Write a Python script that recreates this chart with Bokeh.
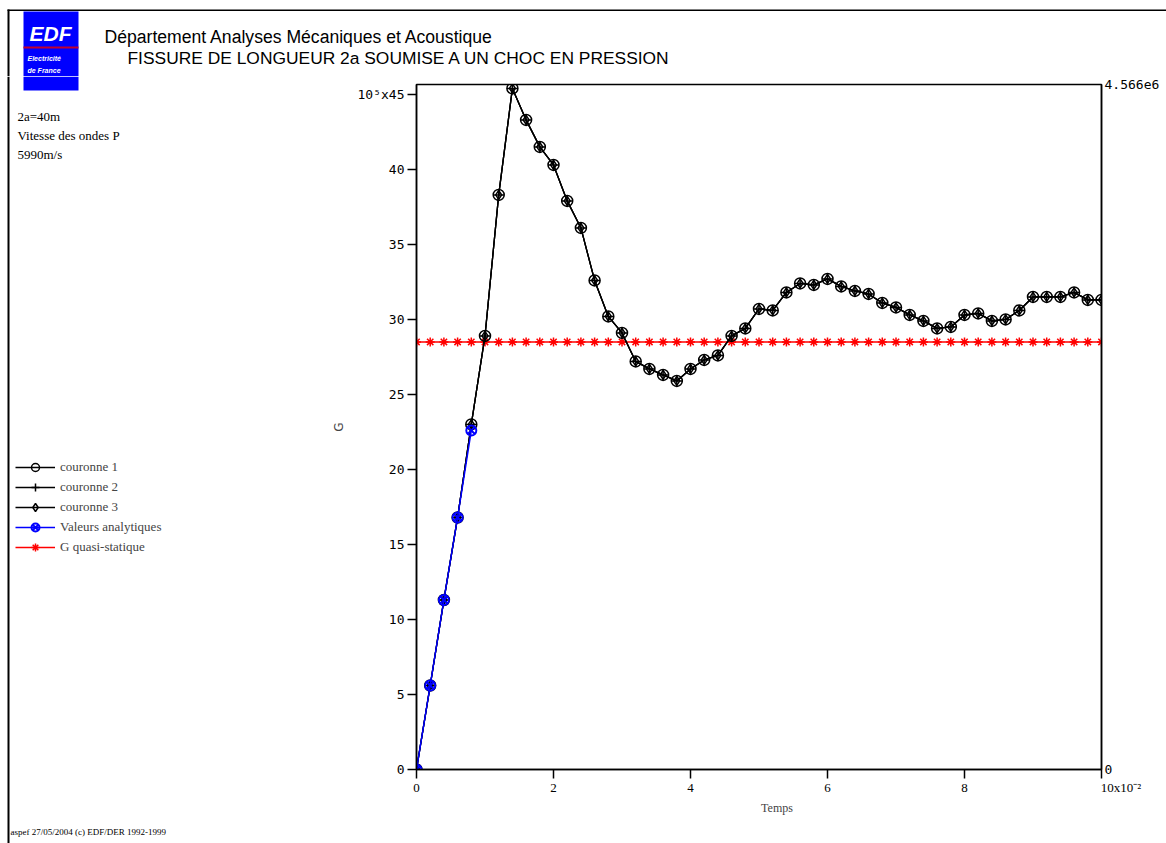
import math
from bokeh.plotting import figure
from bokeh.layouts import column, row
from bokeh.models import (Range1d, LinearAxis, FixedTicker, Label, BoxAnnotation,
                          Legend, LegendItem)
from bokeh.embed import file_html
from bokeh.resources import INLINE

# ---------------- data ----------------
TIME = [0.0, 0.2, 0.4, 0.6, 0.8, 1.0, 1.2, 1.4, 1.6, 1.8,
        2.0, 2.2, 2.4, 2.6, 2.8, 3.0, 3.2, 3.4, 3.6, 3.8,
        4.0, 4.2, 4.4, 4.6, 4.8, 5.0, 5.2, 5.4, 5.6, 5.8,
        6.0, 6.2, 6.4, 6.6, 6.8, 7.0, 7.2, 7.4, 7.6, 7.8,
        8.0, 8.2, 8.4, 8.6, 8.8, 9.0, 9.2, 9.4, 9.6, 9.8, 10.0]

COURONNE_1 = [0.0, 5.6, 11.3, 16.8, 23.0, 28.9, 38.3, 45.4, 43.3, 41.5,
              40.3, 37.9, 36.1, 32.6, 30.2, 29.1, 27.2, 26.7, 26.3, 25.9,
              26.7, 27.3, 27.6, 28.9, 29.4, 30.7, 30.6, 31.8, 32.4, 32.3,
              32.7, 32.2, 31.9, 31.7, 31.1, 30.8, 30.3, 29.9, 29.4, 29.5,
              30.3, 30.4, 29.9, 30.0, 30.6, 31.5, 31.5, 31.5, 31.8, 31.3, 31.3]
COURONNE_2 = [0.0, 5.6, 11.3, 16.8, 23.0, 28.9, 38.3, 45.4, 43.3, 41.5,
              40.3, 37.9, 36.1, 32.6, 30.2, 29.1, 27.2, 26.7, 26.3, 25.9,
              26.7, 27.3, 27.6, 28.9, 29.4, 30.7, 30.6, 31.8, 32.4, 32.3,
              32.7, 32.2, 31.9, 31.7, 31.1, 30.8, 30.3, 29.9, 29.4, 29.5,
              30.3, 30.4, 29.9, 30.0, 30.6, 31.5, 31.5, 31.5, 31.8, 31.3, 31.3]
COURONNE_3 = [0.0, 5.6, 11.3, 16.8, 23.0, 28.9, 38.3, 45.4, 43.3, 41.5,
              40.3, 37.9, 36.1, 32.6, 30.2, 29.1, 27.2, 26.7, 26.3, 25.9,
              26.7, 27.3, 27.6, 28.9, 29.4, 30.7, 30.6, 31.8, 32.4, 32.3,
              32.7, 32.2, 31.9, 31.7, 31.1, 30.8, 30.3, 29.9, 29.4, 29.5,
              30.3, 30.4, 29.9, 30.0, 30.6, 31.5, 31.5, 31.5, 31.8, 31.3, 31.3]

ANALYTIC_T = [0.0, 0.2, 0.4, 0.6, 0.8]
ANALYTIC_G = [0.0, 5.6, 11.3, 16.8, 22.6]

G_QUASI_STATIQUE = [28.5] * len(TIME)

Y_TICKS = [0, 5, 10, 15, 20, 25, 30, 35, 40, 45]
X_TICKS = [0, 2, 4, 6, 8, 10]
Y_MAX = 45.66
NB = "\u00a0"
Y_LABELS = {45: "10\u2075x45"}
X_LABELS = {10: NB * 12 + "10x10\u207b\u00b2"}
RIGHT_LABELS = {0: "0", Y_MAX: "4.566e6"}
LEGEND_LABELS = ["couronne 1", "couronne 2", "couronne 3",
                 "Valeurs analytiques", "G quasi-statique"]

TOP_H = 76       # header band height
LEFT_W = 325     # left band width
FRAME_LEFT = 416 # page x of the plot frame's left edge
W, H = 1166, 843

BLUE = "#0000ff"
RED = "#ff0000"


def draw_series(f):
    """Draw all series on figure f; return (line, marker) renderer pairs in legend order."""
    red_l = f.line(TIME, G_QUASI_STATIQUE, line_color=RED, line_width=1.5)
    red_m = f.scatter(TIME, G_QUASI_STATIQUE, marker="asterisk", size=9,
                      line_color=RED, line_width=1.5)
    pairs = []
    for vals, mk, sz in zip([COURONNE_1, COURONNE_2, COURONNE_3],
                            ["circle", "cross", "diamond"], [11, 11, 9]):
        rl = f.line(TIME, vals, line_color="black", line_width=1.3)
        rm = f.scatter(TIME, vals, marker=mk, size=sz, line_color="black",
                       fill_color=None, line_width=1.5)
        pairs.append([rl, rm])
    bl = f.line(ANALYTIC_T, ANALYTIC_G, line_color=BLUE, line_width=1.5)
    bm = f.scatter(ANALYTIC_T, ANALYTIC_G, marker="circle_x", size=10, line_color=BLUE,
                   fill_color=None, line_width=2)
    pairs.append([bl, bm])
    pairs.append([red_l, red_m])
    return pairs


def deco_fig(width, height, x0, y0):
    """A figure whose frame is its whole canvas, with data units = page pixels."""
    f = figure(width=width, height=height,
               x_range=Range1d(x0, x0 + width), y_range=Range1d(y0 + height, y0),
               output_backend="svg", toolbar_location=None,
               x_axis_location=None, y_axis_location=None, min_border=0,
               frame_align=False)
    f.grid.visible = False
    f.outline_line_color = None
    f.background_fill_color = "white"
    f.border_fill_color = "white"
    return f


def box(f, l, r, t, b, color):
    f.add_layout(BoxAnnotation(left=l, right=r, top=t, bottom=b,
                               fill_color=color, fill_alpha=1, line_color=None))


def label(f, x, y, text, font="Liberation Serif", size="13px", color="black",
          align="left", style="normal", angle=0):
    f.add_layout(Label(x=x, y=y, text=text, text_font=font, text_font_size=size,
                       text_color=color, text_align=align, text_baseline="middle",
                       text_font_style=style, angle=angle))


# ---------------- header band ----------------
top = deco_fig(W, TOP_H, 0, 0)
box(top, 7, W, 9, 10.5, "black")        # top page border
box(top, 7, 9, 9, TOP_H, "black")       # left page border
box(top, 23, 78, 11, TOP_H, BLUE)       # EDF logo
box(top, 23, 78, 46, 48, "#c00030")     # logo red bar
label(top, 50, 33, "EDF", font="Liberation Sans", size="21px", color="white",
      align="center", style="bold italic")
label(top, 27, 58, "Electricité", font="Liberation Sans", size="7px", color="white", style="bold italic")
label(top, 27, 70, "de France", font="Liberation Sans", size="7px", color="white", style="bold italic")
label(top, 104, 36, "Département Analyses Mécaniques et Acoustique",
      font="Liberation Sans", size="17.6px")
label(top, 127, 57, "FISSURE DE LONGUEUR 2a SOUMISE A UN CHOC EN PRESSION",
      font="Liberation Sans", size="17.4px")

# ---------------- left band ----------------
left = deco_fig(LEFT_W, H - TOP_H, 0, TOP_H)
box(left, 7, 9, TOP_H, H, "black")       # left page border
box(left, 23, 78, TOP_H, 90, BLUE)       # bottom of the logo
label(left, 17, 116, "2a=40m")
label(left, 17, 135, "Vitesse des ondes P")
label(left, 17, 154, "5990m/s")
label(left, 10, 831, "aspef 27/05/2004 (c) EDF/DER 1992-1999", size="9px")

# the series also live in this band (outside its visible range) to feed the legend
left_pairs = draw_series(left)
legend = Legend(items=[LegendItem(label=n, renderers=r) for n, r in zip(LEGEND_LABELS, left_pairs)],
                location=(15, H - 557), padding=0, margin=0, spacing=0,
                glyph_width=40, glyph_height=20, label_height=20, label_standoff=5,
                label_text_font="Liberation Serif", label_text_font_size="13px",
                background_fill_alpha=0, border_line_alpha=0)
left.add_layout(legend)

# ---------------- main plot ----------------
p = figure(width=W - LEFT_W, height=H - TOP_H,
           x_range=Range1d(0, 10), y_range=Range1d(0, Y_MAX),
           output_backend="svg", toolbar_location=None,
           x_axis_location=None, y_axis_location=None,
           min_border_left=FRAME_LEFT - LEFT_W, min_border_right=65,
           min_border_top=8, min_border_bottom=74,
           frame_align=False)
p.grid.visible = False
p.outline_line_color = "black"
p.outline_line_width = 1.5
p.background_fill_color = "white"
p.border_fill_color = "white"

yaxis = LinearAxis(ticker=FixedTicker(ticks=Y_TICKS), major_label_overrides=Y_LABELS,
                   axis_label="G")
yaxis.major_tick_out = 9
yaxis.major_tick_in = 0
yaxis.minor_tick_out = 0
yaxis.minor_tick_in = 0
yaxis.major_label_standoff = 3
yaxis.axis_line_width = 1.5
yaxis.major_tick_line_width = 1.5
yaxis.major_label_text_font = "DejaVu Sans Mono"
yaxis.major_label_text_font_size = "13px"
yaxis.major_label_text_color = "black"
yaxis.axis_label_standoff = 9
yaxis.axis_label_text_font = "DejaVu Sans"
yaxis.axis_label_text_font_size = "12px"
yaxis.axis_label_text_font_style = "normal"
p.add_layout(yaxis, "left")

xaxis = LinearAxis(ticker=FixedTicker(ticks=X_TICKS), major_label_overrides=X_LABELS,
                   axis_label=NB * 12 + "Temps")
xaxis.major_tick_out = 9
xaxis.major_tick_in = 0
xaxis.minor_tick_out = 0
xaxis.minor_tick_in = 0
xaxis.major_label_standoff = 1
xaxis.axis_line_width = 1.5
xaxis.major_tick_line_width = 1.5
xaxis.major_label_text_font = "Liberation Serif"
xaxis.major_label_text_font_size = "13px"
xaxis.major_label_text_color = "black"
xaxis.axis_label_standoff = 3
xaxis.axis_label_text_font = "Liberation Serif"
xaxis.axis_label_text_font_size = "12px"
xaxis.axis_label_text_font_style = "normal"
p.add_layout(xaxis, "below")

raxis = LinearAxis(ticker=FixedTicker(ticks=[0, Y_MAX]), major_label_overrides=RIGHT_LABELS)
raxis.major_tick_out = 0
raxis.major_tick_in = 0
raxis.minor_tick_out = 0
raxis.minor_tick_in = 0
raxis.major_label_standoff = 3
raxis.axis_line_width = 1.5
raxis.major_label_text_font = "DejaVu Sans Mono"
raxis.major_label_text_font_size = "13px"
raxis.major_label_text_color = "black"
p.add_layout(raxis, "right")

draw_series(p)

layout = column(top, row(left, p))
open("out.html", "w").write(file_html(layout, INLINE))
